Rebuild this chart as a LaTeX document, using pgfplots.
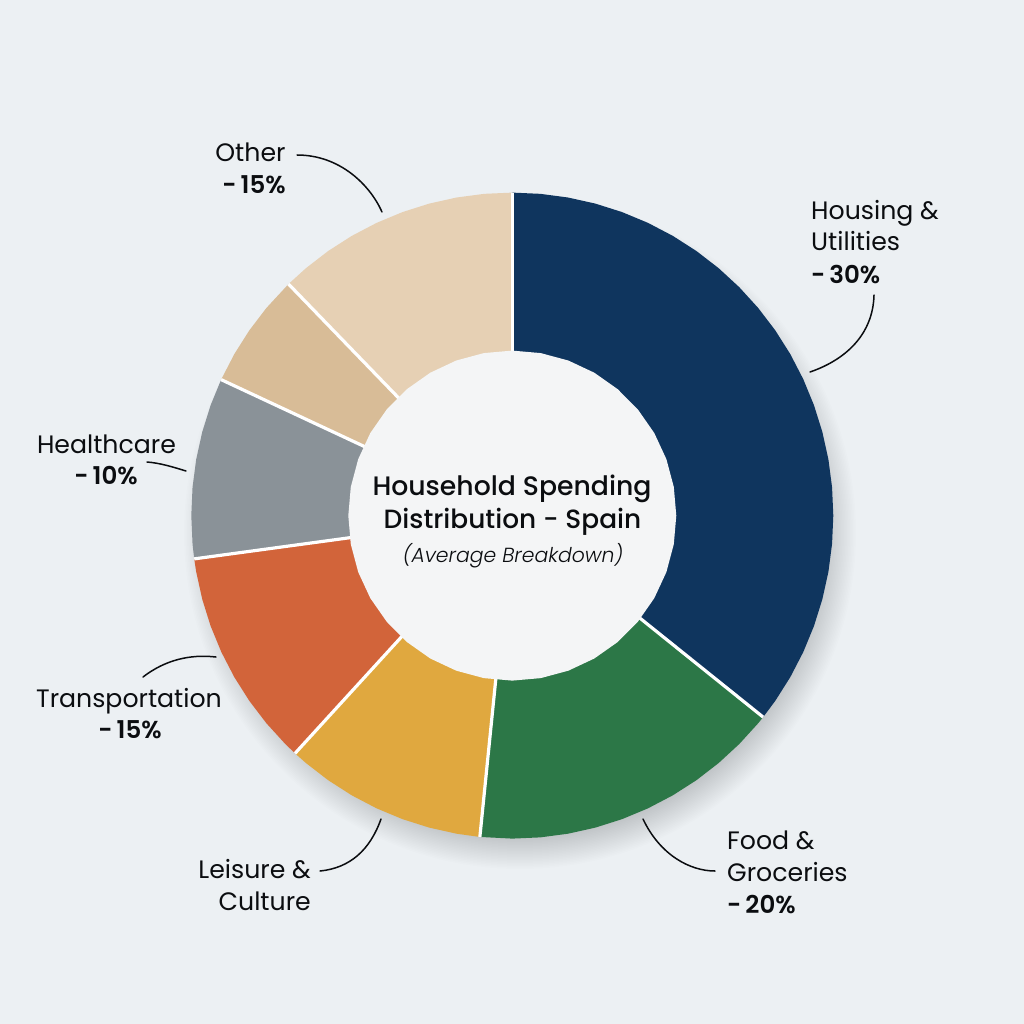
\documentclass[border=0pt]{standalone}
\usepackage{fontspec}
\setmainfont{Poppins}
\newfontfamily\fmed{Poppins Medium}
\newfontfamily\fsemi{Poppins SemiBold}
\newfontfamily\flight{Poppins Light Italic}
\usepackage{pgfplots}
\pgfplotsset{compat=1.18}
\usepgfplotslibrary{polar}
\definecolor{cbg}{HTML}{ECF0F3}
\definecolor{cnavy}{HTML}{0F355E}
\definecolor{cgreen}{HTML}{2C7747}
\definecolor{cyellow}{HTML}{E0A83F}
\definecolor{corange}{HTML}{D2643A}
\definecolor{cgray}{HTML}{8A9298}
\definecolor{ctan}{HTML}{D8BC97}
\definecolor{clight}{HTML}{E6D0B4}
\definecolor{ccenter}{HTML}{F4F5F6}
\definecolor{cink}{HTML}{0B0D10}
\newcommand{\lbl}[1]{\fontsize{25.2}{25}\selectfont #1}
\newcommand{\pct}[1]{{\fontsize{24.5}{25}\selectfont\fsemi -\kern4pt #1}}
\begin{document}
\begin{tikzpicture}[x=1pt,y=-1pt]
\fill[cbg] (0,0) rectangle (1024,1024);
\foreach \r in {300,301.5,...,336}{\fill[black,opacity=0.007] (520,533) circle[radius=\r pt];}
\begin{polaraxis}[at={(512.3pt,-515.6pt)},anchor=center,scale only axis,width=642pt,height=646pt,
  xmin=0,xmax=360,ymin=0,ymax=322,hide axis,clip=false]
\addplot[fill=cnavy,draw=none] coordinates {(0,0)(90,322)(85,322)(80,322)(75,322)(70,322)(65,322)(60,322)(55,322)(50,322)(45,322)(40,322)(35,322)(30,322)(25,322)(20,322)(15,322)(10,322)(5,322)(0,322)(-5,322)(-10,322)(-15,322)(-20,322)(-25,322)(-30,322)(-35,322)(-38.6,322)(0,0)};
\addplot[fill=cgreen,draw=none] coordinates {(0,0)(-38.6,322)(-40,322)(-45,322)(-50,322)(-55,322)(-60,322)(-65,322)(-70,322)(-75,322)(-80,322)(-85,322)(-90,322)(-95.8,322)(0,0)};
\addplot[fill=cyellow,draw=none] coordinates {(0,0)(-95.8,322)(-100,322)(-105,322)(-110,322)(-115,322)(-120,322)(-125,322)(-130,322)(-132.6,322)(0,0)};
\addplot[fill=corange,draw=none] coordinates {(0,0)(-132.6,322)(-135,322)(-140,322)(-145,322)(-150,322)(-155,322)(-160,322)(-165,322)(-170,322)(-172.3,322)(0,0)};
\addplot[fill=cgray,draw=none] coordinates {(0,0)(-172.3,322)(-175,322)(-180,322)(-185,322)(-190,322)(-195,322)(-200,322)(-204.9,322)(0,0)};
\addplot[fill=ctan,draw=none] coordinates {(0,0)(-204.9,322)(-210,322)(-215,322)(-220,322)(-225.8,322)(0,0)};
\addplot[fill=clight,draw=none] coordinates {(0,0)(-225.8,322)(-230,322)(-235,322)(-240,322)(-245,322)(-250,322)(-255,322)(-260,322)(-265,322)(-270,322)(0,0)};
\addplot[white,line width=3.2pt] coordinates {(90,150)(90,322)};
\addplot[white,line width=3.2pt] coordinates {(-38.6,150)(-38.6,322)};
\addplot[white,line width=3.2pt] coordinates {(-95.8,150)(-95.8,322)};
\addplot[white,line width=3.2pt] coordinates {(-132.6,150)(-132.6,322)};
\addplot[white,line width=3.2pt] coordinates {(-172.3,150)(-172.3,322)};
\addplot[white,line width=3.2pt] coordinates {(-204.9,150)(-204.9,322)};
\addplot[white,line width=3.2pt] coordinates {(-225.8,150)(-225.8,322)};
\addplot[fill=ccenter,draw=none] coordinates {(0,164.5)(10,164.5)(20,164.5)(30,164.5)(40,164.5)(50,164.5)(60,164.5)(70,164.5)(80,164.5)(90,164.5)(100,164.5)(110,164.5)(120,164.5)(130,164.5)(140,164.5)(150,164.5)(160,164.5)(170,164.5)(180,164.5)(190,164.5)(200,164.5)(210,164.5)(220,164.5)(230,164.5)(240,164.5)(250,164.5)(260,164.5)(270,164.5)(280,164.5)(290,164.5)(300,164.5)(310,164.5)(320,164.5)(330,164.5)(340,164.5)(350,164.5)};
\end{polaraxis}
\begin{scope}[x=1pt,y=-1pt,cink,line width=1.5pt,line cap=round]
\draw (874,295) .. controls (873,335) and (845,360) .. (810,372);
\draw (643,819) .. controls (660,855) and (690,871) .. (715,871);
\draw (381,819) .. controls (370,850) and (350,868) .. (320,871);
\draw (216,657) .. controls (190,654) and (165,660) .. (143,677);
\draw (147,462) .. controls (160,463) and (173,467) .. (186,471);
\draw (297,155) .. controls (340,155) and (370,185) .. (382,212);
\end{scope}
\begin{scope}[every node/.style={inner sep=0pt,text=cink}]
\node[anchor=base west] at (811,220) {\lbl{Housing \&}};
\node[anchor=base west] at (811,251) {\lbl{Utilities}};
\node[anchor=base west] at (811,283) {\pct{30\%}};
\node[anchor=base west] at (727,849) {\lbl{Food \&}};
\node[anchor=base west] at (727,881) {\lbl{Groceries}};
\node[anchor=base west] at (727,913) {\pct{20\%}};
\node[anchor=base east] at (311,878) {\lbl{Leisure \&}};
\node[anchor=base east] at (311,910) {\lbl{Culture}};
\node[anchor=base] at (129,707) {\lbl{Transportation}};
\node[anchor=base] at (130,738) {\pct{15\%}};
\node[anchor=base] at (106.5,453) {\lbl{Healthcare}};
\node[anchor=base] at (106,484) {\pct{10\%}};
\node[anchor=base] at (250.5,162) {\lbl{Other}};
\node[anchor=base] at (254,194) {\pct{15\%}};
\node[anchor=base] at (512,495) {\fontsize{26.7}{27}\selectfont\fmed Household Spending};
\node[anchor=base] at (512.5,528) {\fontsize{26.4}{27}\selectfont\fmed Distribution - Spain};
\node[anchor=base] at (513,562) {\fontsize{20.4}{21}\selectfont\flight (Average Breakdown)};
\end{scope}
\end{tikzpicture}
\end{document}
